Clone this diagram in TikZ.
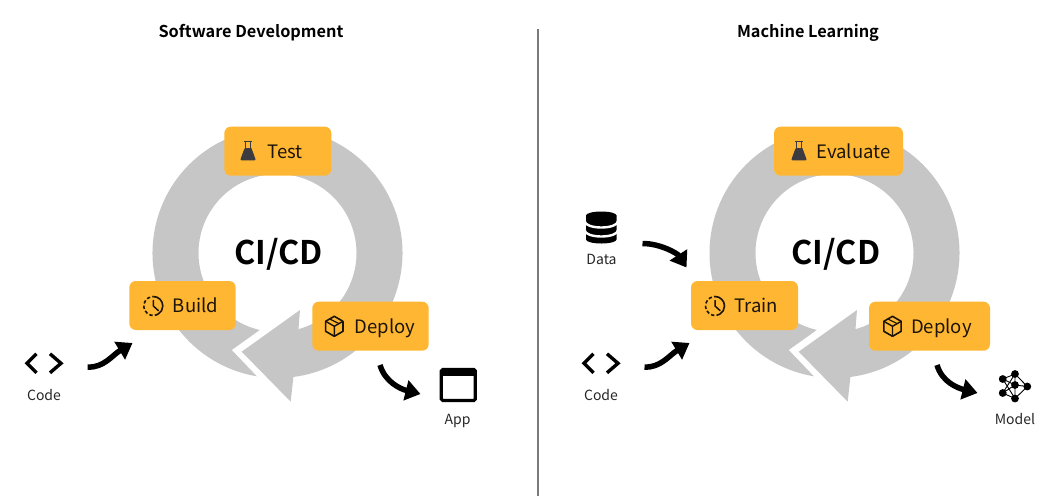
\documentclass[tikz,border=0pt]{standalone}
\usepackage{fontspec}
\setmainfont{Noto Sans CJK SC}[BoldFont={Noto Sans CJK SC Bold}]
\usetikzlibrary{arrows.meta}
\definecolor{ringgrey}{HTML}{C6C6C6}
\definecolor{boxorange}{HTML}{FFB733}
\definecolor{inkdark}{HTML}{1C1408}
\definecolor{flaskgrey}{HTML}{3C3C40}
\definecolor{rulegrey}{HTML}{7A7A7A}
\tikzset{
  picflip/.style={yscale=-1},
  stagebox/.style={fill=boxorange,rounded corners=6.5pt,minimum height=49pt,inner sep=0pt,text=inkdark,text height=14pt,text depth=0pt,font=\fontsize{18.5}{20}\selectfont},
  caption/.style={font=\fontsize{14}{16}\selectfont,text=black!85,inner sep=0pt},
  heading/.style={font=\bfseries\fontsize{16.3}{18}\selectfont,inner sep=0pt},
  bigtext/.style={font=\bfseries\fontsize{32.5}{36}\selectfont,inner sep=0pt,text=black},
  flowarrow/.style={line width=5.5pt,draw=black,-{Triangle[length=15pt,width=20pt]}},
  pics/ring/.style={code={
    \fill[ringgrey] (99.5:125) arc[start angle=99.5,end angle=442.7,radius=125]
      -- (13.2,148.7) -- (-35.8,98.7) -- (22.5,57)
      -- (434.6:79) arc[start angle=434.6,end angle=103,radius=79]
      -- (-45.8,97) -- cycle;
  }},
  pics/flask/.style={code={
    \draw[flaskgrey,line width=1.2pt] (-4,-9.5) -- (4,-9.5) (-2.8,-9.5) -- (-2.8,-2) (2.8,-9.5) -- (2.8,-2);
    \fill[flaskgrey] (-3.4,-3) -- (3.4,-3) -- (7.5,8.2) [rounded corners=1pt] -- (7.5,9.3) -- (-7.5,9.3) -- (-7.5,8.2) -- cycle;
  }},
  pics/clock/.style={code={
    \draw[inkdark,line width=1.6pt] (270:9.5) arc[start angle=270,end angle=420,radius=9.5];
    \draw[inkdark,line width=1.6pt,dash pattern=on 3.4pt off 2.2pt] (60:9.5) arc[start angle=60,end angle=270,radius=9.5];
    \draw[inkdark,line width=1.5pt,line cap=round,line join=round] (0,-5.5) -- (0,0) -- (5,4.5);
  }},
  pics/package/.style={code={
    \draw[inkdark,line width=1.6pt,line join=round] (-90:10) -- (-30:10) -- (30:10) -- (90:10) -- (150:10) -- (210:10) -- cycle;
    \draw[inkdark,line width=1.4pt,line join=round] (210:10) -- (0,0) -- (-30:10) (0,0) -- (0,10);
    \draw[inkdark,line width=1.2pt] (-5,-7.5) -- (5,-2.5);
  }},
  pics/codemark/.style={code={
    \draw[black,line width=3.4pt,line join=miter] (-7.5,-9.5) -- (-17,0) -- (-7.5,9.5);
    \draw[black,line width=3.4pt,line join=miter] (6,-9.5) -- (17,0) -- (6,9.5);
  }},
  pics/window/.style={code={
    \draw[black,line width=3.2pt,rounded corners=1.5pt] (-17,-15.5) rectangle (17,15.5);
    \fill[black] (-17,-15.5) rectangle (17,-9);
  }},
  pics/database/.style={code={
    \fill[black] (-15.3,-12) -- (15.3,-12) -- (15.3,12) arc[start angle=0,end angle=180,x radius=15.3,y radius=4] -- cycle;
    \fill[black] (0,-12) ellipse[x radius=15.3,y radius=4];
    \draw[white,line width=2.4pt] (-16.5,-6) arc[start angle=180,end angle=0,x radius=16.5,y radius=6];
    \draw[white,line width=2.4pt] (-16.5,3) arc[start angle=180,end angle=0,x radius=16.5,y radius=6];
  }},
  pics/network/.style={code={
    \coordinate (n1) at (0,-11.5);
    \coordinate (n2) at (-12.3,-6.5);
    \coordinate (n3) at (12.3,1);
    \coordinate (n4) at (0,-0.5);
    \coordinate (n5) at (-12.3,7.5);
    \coordinate (n6) at (0,13);
    \draw[black,line width=0.9pt] (n1) -- (n2) -- (n4) -- (n1) -- (n3) -- (n6) -- (n5) -- (n4) -- (n6) (n4) -- (n3) (n2) -- (n6) (n1) -- (n5);
    \foreach \p in {n1,n2,n3,n4,n5,n6} \fill[black] (\p) circle[radius=3.9];
  }},
}
\begin{document}
\begin{tikzpicture}[x=1pt,y=1pt,yscale=-1]
\useasboundingbox (0,0) rectangle (1053,496);
% headings and divider
\node[heading] (titleL) at (251,32.5) {Software Development};
\node[heading] (titleR) at (808,32.5) {Machine Learning};
\coordinate (divtop) at (538,29);
\coordinate (divbot) at (538,496);
\draw[rulegrey,line width=1.1pt] (divtop) -- (divbot);
% rings
\pic[picflip] at (277.5,253) {ring};
\pic[picflip] at (834.5,253) {ring};
\node[bigtext] (ciL) at (278.5,254) {CI/CD};
\node[bigtext] (ciR) at (836,254) {CI/CD};
% left stage boxes
\node[stagebox,minimum width=107pt] (test) at (277.8,151.2) {\hspace*{15pt}Test};
\node[stagebox,minimum width=106.4pt] (build) at (182.5,305.5) {\hspace*{26pt}Build};
\node[stagebox,minimum width=116.4pt] (deployL) at (370.5,326.2) {\hspace*{29pt}Deploy};
\pic[picflip] at (248,151) {flask};
\pic[picflip] at (153.3,306) {clock};
\pic[picflip] at (334.3,326.3) {package};
% right stage boxes
\node[stagebox,minimum width=129pt] (evaluate) at (838.5,151.2) {\hspace*{30pt}Evaluate};
\node[stagebox,minimum width=107pt] (train) at (744.5,305.5) {\hspace*{23pt}Train};
\node[stagebox,minimum width=121pt] (deployR) at (929.5,326.2) {\hspace*{24pt}Deploy};
\pic[picflip] at (799,151) {flask};
\pic[picflip] at (715,306) {clock};
\pic[picflip] at (892.5,326.3) {package};
% inputs and outputs, left
\pic[picflip] at (44,363.3) {codemark};
\node[caption] (codeL) at (44,395) {Code};
\pic[picflip] at (458.3,385) {window};
\node[caption] (app) at (457.5,421) {App};
% inputs and outputs, right
\pic[picflip] at (601,363.3) {codemark};
\node[caption] (codeR) at (601,395) {Code};
\pic[picflip] at (601.3,227.5) {database};
\node[caption] (data) at (601.5,259) {Data};
\pic[picflip] at (1015,385.5) {network};
\node[caption] (model) at (1015,419) {Model};
% connector ends
\coordinate (a1s) at (87.7,367);
\coordinate (a1t) at (132.5,343);
\coordinate (a2s) at (380,365);
\coordinate (a2t) at (420.5,394);
\coordinate (a3s) at (644.5,367);
\coordinate (a3t) at (689.5,343);
\coordinate (a4s) at (937,365);
\coordinate (a4t) at (977.5,393);
\coordinate (a5s) at (642.5,243.5);
\coordinate (a5t) at (686.5,267.5);
\draw[flowarrow] (a1s) .. controls +(16,1) and +(-20,12) .. (a1t);
\draw[flowarrow] (a3s) .. controls +(16,1) and +(-20,12) .. (a3t);
\draw[flowarrow] (a2s) .. controls +(5,17) and +(-20,-5) .. (a2t);
\draw[flowarrow] (a4s) .. controls +(5,17) and +(-20,-5) .. (a4t);
\draw[flowarrow] (a5s) .. controls +(18,0) and +(-9,-14) .. (a5t);
\end{tikzpicture}
\end{document}
